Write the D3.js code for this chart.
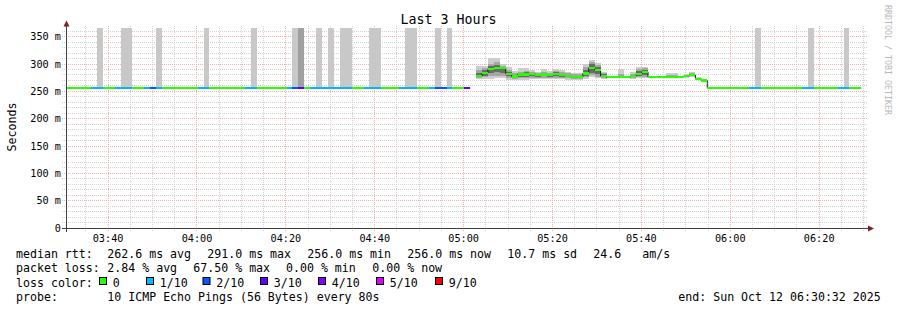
<!DOCTYPE html>
<html>
<head>
<meta charset="utf-8">
<script src="https://cdn.jsdelivr.net/npm/d3@7"></script>
<style>
body { margin: 0; background: #fff; }
svg { display: block; font-family: "DejaVu Sans Mono", monospace; }
</style>
</head>
<body>
<svg id="chart" width="897" height="310"></svg>
<script>
// one step = one smokeping round of 10 pings
const stepSeconds = 80;
const firstStep = new Date(2025, 9, 12, 3, 30, 49);
const graphStart = new Date(2025, 9, 12, 3, 30, 32);
const graphEnd = new Date(2025, 9, 12, 6, 30, 32);

// median rtt per step (ms), null = no data
const median = [
	256, 256, 256, 256, 256, 256, 256, 256, 256, 256,
	256, 256, 256, 256, 256, 256, 256, 256, 256, 256,
	256, 256, 256, 256, 256, 256, 256, 256, 256, 256,
	256, 256, 256, 256, 256, 256, 256, 256, 256, 256,
	256, 256, 256, 256, 256, 256, 256, 256, 256, 256,
	256, 256, 256, 256, 256, 256, 256, 256, 256, 256,
	256, 256, 256, 256, 256, 256, 256, 256, null, 278,
	284, 291, 293, 293, 282, 277, 281, 281, 282, 280,
	281, 280, 282, 280, 278, 276, 276, 283, 293, 289,
	278, 276, 276, 276, 276, 278, 282, 286, 276, 276,
	276, 276, 276, 276, 278, 280, 273, 270, 256, 256,
	256, 256, 256, 256, 256, 256, 256, 256, 256, 256,
	256, 256, 256, 256, 256, 256, 256, 256, 256, 256,
	256, 256, 256, 256
];

// lost pings per step (of 10)
const loss = [
	0, 0, 0, 0, 1, 1, 0, 0, 1, 1,
	1, 0, 0, 1, 2, 1, 0, 0, 0, 0,
	0, 0, 1, 1, 0, 0, 0, 0, 0, 0,
	1, 1, 0, 0, 0, 0, 0, 1, 2, 3,
	0, 1, 1, 1, 1, 1, 1, 1, 0, 0,
	1, 1, 1, 0, 0, 0, 1, 1, 1, 0,
	0, 1, 2, 2, 1, 0, 0, 3, 0, 0,
	0, 0, 0, 0, 0, 0, 0, 0, 0, 0,
	0, 0, 0, 0, 0, 0, 0, 0, 0, 0,
	0, 0, 0, 0, 0, 0, 0, 0, 0, 0,
	0, 0, 0, 0, 0, 0, 0, 0, 0, 0,
	0, 0, 0, 0, 0, 1, 1, 0, 0, 0,
	0, 0, 0, 0, 1, 1, 0, 0, 0, 0,
	1, 1, 0, 0
];

// steps whose smoke runs off the top (timeouts)
const lostSmoke = [5, 9, 10, 15, 23, 31, 38, 39, 42, 44, 46, 47, 51, 52, 57, 58, 62, 64, 116, 125, 131];
const lostSmokeDark = [39];

// smoke bands (ms) for the busy period, starting at step smokeFirst
const smokeFirst = 69;
const smokeOuter = [
	[273, 296], [272, 296], [273, 311], [274, 311], [274, 300], [270, 295], [270, 287], [271, 293], [271, 293], [272, 289],
	[272, 286], [272, 291], [272, 287], [272, 291], [272, 289], [271, 286], [271, 284], [271, 284], [273, 300], [276, 307],
	[274, 302], [272, 286], [274, 279], [274, 279], [274, 291], [274, 279], [273, 286], [274, 295], [275, 295], [274, 279],
	[274, 279], [274, 279], [274, 284], [274, 284], [274, 279], [275, 282], [277, 285], [271, 276], [268, 272]
];
const smokeMid = [
	[275, 289], [276, 292], [278, 300], [279, 303], [278, 297], [274, 289], [273, 284], [274, 286], [274, 288], [275, 286],
	[275, 284], [275, 286], [275, 284], [275, 287], [275, 285], [274, 283], [273, 281], [273, 281], [276, 295], [280, 304],
	[277, 298], [274, 284], [275, 278], [275, 278], [275, 281], [275, 278], [275, 282], [276, 291], [277, 292], [275, 278],
	[275, 278], [275, 278], [275, 280], [275, 280], [275, 278], [276, 280], [278, 283], [272, 275], [269, 271]
];
const smokeCore = [
	[277, 283], [279, 289], [284, 296], [286, 298], [284, 295], [278, 286], [275, 280], [277, 284], [277, 285], [278, 284],
	[277, 282], [278, 284], [277, 282], [278, 285], [277, 282], [276, 280], [275, 279], [275, 279], [279, 290], [284, 300],
	[281, 295], [276, 282], [275, 277], [275, 277], [275, 278], [275, 277], [276, 280], [278, 288], [280, 290], [275, 277],
	[275, 277], [275, 277], [275, 278], [275, 278], [275, 277], [277, 279], [279, 282], [272, 274], [269, 271]
];

const lossCounts = [0, 1, 2, 3, 4, 5, 9];
const lossLabels = ["0", "1/10", "2/10", "3/10", "4/10", "5/10", "9/10"];
const lossColors = ["#26ff00", "#00b8ff", "#0059ff", "#5e00ff", "#7e00ff", "#dd00ff", "#ff0000"];

const rttStats = [262.6, 291.0, 256.0, 256.0];
const rttNames = ["avg", "max", "min", "now"];
const rttSd = 10.7;
const rttAmS = 24.6;
const lossStats = [2.84, 67.50, 0.00, 0.00];

// --------------------------------------------------------------------

const svg = d3.select("#chart");
const font = "DejaVu Sans Mono";

const x = d3.scaleTime()
	.domain([graphStart, graphEnd])
	.range([66, 866]);

const y = d3.scaleLinear()
	.domain([0, 366])
	.range([228, 28]);

const stepTime = k => new Date(firstStep.getTime() + k * stepSeconds * 1000);
const sx0 = k => x(stepTime(k));
const sx1 = k => x(stepTime(k + 1));
const py = v => Math.floor(y(v)) + 0.5;

function lossColor(n) {
	let c = lossColors[0];
	lossCounts.forEach((l, i) => { if (n >= l) c = lossColors[i]; });
	return c;
}

svg.append("rect")
	.attr("width", 897).attr("height", 310)
	.attr("fill", "#fff");

// grid
const grid = svg.append("g").attr("shape-rendering", "crispEdges");
const yMajor = y.ticks(7);
const yMinor = y.ticks(40).filter(v => v > 0 && yMajor.indexOf(v) < 0);
const xMajor = x.ticks(d3.timeMinute.every(20));
const xMinor = x.ticks(d3.timeMinute.every(5)).filter(t => t.getMinutes() % 20 != 0);

grid.selectAll("line.hmin").data(yMinor).join("line")
	.attr("x1", 62).attr("x2", 868)
	.attr("y1", d => py(d)).attr("y2", d => py(d))
	.attr("stroke", "#d2d2d2").attr("stroke-dasharray", "1,1");

grid.selectAll("line.vmin").data(xMinor).join("line")
	.attr("x1", d => Math.floor(x(d)) + 0.5).attr("x2", d => Math.floor(x(d)) + 0.5)
	.attr("y1", 26).attr("y2", 232)
	.attr("stroke", "#d2d2d2").attr("stroke-dasharray", "1,1");

grid.selectAll("line.hmaj").data(yMajor.filter(v => v > 0)).join("line")
	.attr("x1", 62).attr("x2", 868)
	.attr("y1", d => py(d)).attr("y2", d => py(d))
	.attr("stroke", "#f4b0b0").attr("stroke-dasharray", "1,1");

grid.selectAll("line.vmaj").data(xMajor).join("line")
	.attr("x1", d => Math.floor(x(d)) + 0.5).attr("x2", d => Math.floor(x(d)) + 0.5)
	.attr("y1", 26).attr("y2", 232)
	.attr("stroke", "#f4b0b0").attr("stroke-dasharray", "1,1");

// smoke
const smoke = svg.append("g").attr("shape-rendering", "crispEdges");

smoke.selectAll("rect.lost").data(lostSmoke).join("rect")
	.attr("x", k => Math.round(sx0(k)))
	.attr("width", k => Math.round(sx1(k)) - Math.round(sx0(k)))
	.attr("y", y(366))
	.attr("height", k => y(median[k]) - y(366))
	.attr("fill", k => lostSmokeDark.indexOf(k) >= 0 ? "#a0a0a0" : "#c8c8c8");

[[smokeOuter, "#cdcdcd"], [smokeMid, "#a6a6a6"], [smokeCore, "#6a6a6a"]].forEach(([band, color]) => {
	smoke.append("g").selectAll("rect").data(band).join("rect")
		.attr("x", (d, i) => Math.round(sx0(i + smokeFirst)))
		.attr("width", (d, i) => Math.round(sx1(i + smokeFirst)) - Math.round(sx0(i + smokeFirst)))
		.attr("y", d => Math.round(y(d[1])))
		.attr("height", d => Math.round(y(d[0])) - Math.round(y(d[1])))
		.attr("fill", color);
});

// median line (dark) with loss coloured band on top
const p = d3.path();
let prev = null;
median.forEach((v, k) => {
	if (v == null) { prev = null; return; }
	if (prev == null) p.moveTo(sx0(k), y(v));
	else p.lineTo(sx0(k), y(v));
	p.lineTo(sx1(k), y(v));
	prev = v;
});
svg.append("path")
	.attr("d", p.toString())
	.attr("fill", "none")
	.attr("stroke", "#202020")
	.attr("stroke-width", 1);

const swidth = 2.2;
svg.append("g").attr("shape-rendering", "crispEdges")
	.selectAll("rect").data(median.map((v, k) => ({k, v})).filter(d => d.v != null)).join("rect")
	.attr("x", d => Math.round(sx0(d.k)))
	.attr("width", d => Math.round(sx1(d.k)) - Math.round(sx0(d.k)))
	.attr("y", d => Math.round(y(d.v + swidth)))
	.attr("height", d => Math.round(y(d.v - swidth)) - Math.round(y(d.v + swidth)))
	.attr("fill", d => lossColor(loss[d.k]));

// axes
const axis = svg.append("g").attr("shape-rendering", "crispEdges");
axis.append("line")
	.attr("x1", 62).attr("x2", 868).attr("y1", 228.5).attr("y2", 228.5)
	.attr("stroke", "#404040");
axis.append("line")
	.attr("x1", 66.5).attr("x2", 66.5).attr("y1", 232).attr("y2", 26)
	.attr("stroke", "#404040");
svg.append("path")
	.attr("d", "M63.5,26.5L69.5,26.5L66.5,20.5Z")
	.attr("fill", "#7f1f1f");
svg.append("path")
	.attr("d", "M868,225.5L868,231.5L874,228.5Z")
	.attr("fill", "#7f1f1f");

svg.append("g").selectAll("text").data(yMajor).join("text")
	.attr("x", 61)
	.attr("y", d => y(d) + 3.7)
	.attr("text-anchor", "end")
	.attr("font-family", font)
	.attr("font-size", 10.2)
	.text(d => d == 0 ? "0" : d + " m");

svg.append("g").selectAll("text").data(xMajor).join("text")
	.attr("x", d => x(d))
	.attr("y", 241.7)
	.attr("text-anchor", "middle")
	.attr("font-family", font)
	.attr("font-size", 10.2)
	.text(d3.timeFormat("%H:%M"));

svg.append("text")
	.attr("x", 448.5).attr("y", 23.5)
	.attr("text-anchor", "middle")
	.attr("font-family", font)
	.attr("font-size", 13.3)
	.text("Last 3 Hours");

svg.append("text")
	.attr("transform", "translate(15.5,127) rotate(-90)")
	.attr("text-anchor", "middle")
	.attr("font-family", font)
	.attr("font-size", 11.6)
	.text("Seconds");

svg.append("text")
	.attr("transform", "translate(884.5,5) rotate(90)")
	.attr("font-family", font)
	.attr("font-size", 8.3)
	.attr("fill", "#b8b8b8")
	.text("RRDTOOL / TOBI OETIKER");

// legend
const legend = svg.append("g")
	.attr("font-family", font)
	.attr("font-size", 11.6)
	.attr("fill", "#000");

function item(tx, ty, s) {
	legend.append("text").attr("x", tx).attr("y", ty).style("white-space", "pre").text(s);
}

const fms = d3.format(".1f"), fpc = d3.format(".2f");
item(16, 258, "median rtt:");
rttStats.forEach((v, i) => item(107.3 + i * 100, 258, fms(v) + " ms " + rttNames[i]));
item(507.3, 258, fms(rttSd) + " ms sd");
item(593.3, 258, fms(rttAmS));
item(642.3, 258, "am/s");

item(16, 272.3, "packet loss:");
const lossX = [107.3, 193.3, 286, 372.3];
lossStats.forEach((v, i) => item(lossX[i], 272.3, fpc(v) + " % " + rttNames[i]));

item(16, 286.5, "loss color:");
const boxX = [99.5, 146.5, 203, 260.5, 318.5, 376.5, 435.5];
lossLabels.forEach((l, i) => {
	legend.append("rect")
		.attr("x", boxX[i]).attr("y", 277.5)
		.attr("width", 7).attr("height", 7)
		.attr("fill", lossColors[i])
		.attr("stroke", "#000").attr("stroke-width", 1);
	item(boxX[i] + 13.2, 286.5, l);
});

item(16, 300.5, "probe:");
item(107.3, 300.5, "10 ICMP Echo Pings (56 Bytes) every 80s");
item(678.3, 300.5, "end: " + d3.timeFormat("%a %b %d %H:%M:%S %Y")(graphEnd));
</script>
